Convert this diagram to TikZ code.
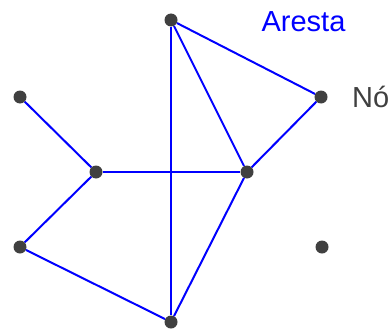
\documentclass[tikz,border=0pt]{standalone}
\usepackage{fontspec}
\setmainfont{Liberation Sans}
\definecolor{nodegray}{HTML}{404040}
\begin{document}
\begin{tikzpicture}[x=1pt, y=-1pt, font=\fontsize{29}{35}\selectfont,
        vertex/.style={circle, fill=nodegray, inner sep=0pt, minimum size=13pt},
        edge/.style={blue, line width=2pt}]
        \useasboundingbox (0,0) rectangle (390,329);
        \foreach \n/\x/\y in {a/171/20, b/321/97, c/20/97, d/96/172, e/247/172, f/20/247, g/322/247, h/171/322} {
            \node[vertex] (\n) at (\x,\y) {};
        }
        \foreach \u/\v in {a/b, a/e, a/h, b/e, c/d, d/e, d/f, f/h, e/h} {
            \draw[edge] (\u) -- (\v);
        }
        \node[blue, anchor=base] (aresta) at (303.5,31.7) {Aresta};
        \node[nodegray, anchor=base west, inner sep=0pt] (no) at (352,107) {Nó};
    \end{tikzpicture}
\end{document}
